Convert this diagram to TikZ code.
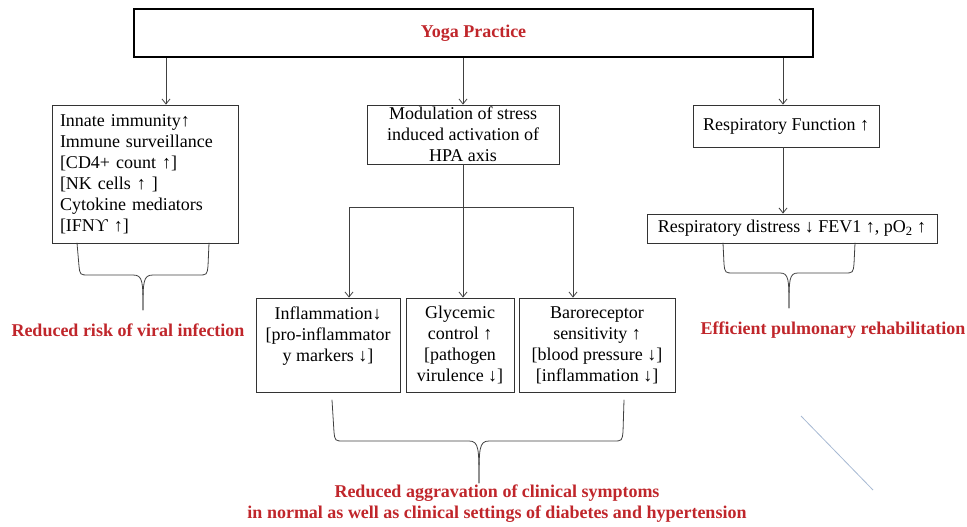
\documentclass[tikz,border=0pt]{standalone}
\usepackage{fontspec}
\setmainfont{Liberation Serif}
\usepackage{xcolor}
\definecolor{brick}{HTML}{C0262B}
\definecolor{steel}{HTML}{A7B9D3}
\newcommand\brickText[1]{{\color{brick}\bfseries#1}}
\usetikzlibrary{arrows.meta,positioning,calc}
\tikzset{
    box/.style ={rectangle, draw=black!80, line width=0.8pt, inner sep=0pt,
                 align=center, font=\fontsize{18}{21}\selectfont},
    outcome/.style = {align=center, text=brick, font=\fontsize{18}{21}\selectfont\bfseries},
    plain/.style = {draw=black!75, line width=0.8pt},
    link/.style = {plain, -{Straight Barb[length=5pt,width=8pt]}},
    brace/.style = {plain, line cap=round}
}

\begin{document}
\begin{tikzpicture}[x=1pt,y=-1pt]
      \useasboundingbox (0,0) rectangle (967,527);
      % boxes
      \node[box, draw=black, line width=2.4pt, minimum width=679, minimum height=48] (yoga) at (473.5,33) {\brickText{Yoga Practice}};
      \node[box, align=left, text width=170, minimum width=186, minimum height=138] (immune) at (145,174)
        {Innate immunity↑\\Immune surveillance\\{[}CD4+ count ↑]\\{[}NK cells ↑ ]\\Cytokine mediators\\{[}IFNϒ ↑]};
      \node[box, minimum width=192, minimum height=59] (hpa) at (463,134.5) {Modulation of stress\\induced activation of\\HPA axis};
      \node[box, minimum width=186, minimum height=42] (resp) at (786,126) {Respiratory Function ↑};
      \node[box, minimum width=290, minimum height=29] (distress) at (792,228.5) {Respiratory distress ↓ FEV1 ↑, pO\textsubscript{2} ↑};
      \node[box, minimum width=144, minimum height=94] (infl) at (328,345) {Inflammation↓\\{[}pro-inflammator\\y markers ↓]\\\mbox{}};
      \node[box, minimum width=108, minimum height=94] (gly) at (460,345) {Glycemic\\control ↑\\{[}pathogen\\virulence ↓]};
      \node[box, minimum width=156, minimum height=94] (baro) at (597,345) {Baroreceptor\\sensitivity ↑\\{[}blood pressure ↓]\\{[}inflammation ↓]};

      % outcomes
      \node[outcome] (viral) at (128,330) {Reduced risk of viral infection};
      \node[outcome] (pulm) at (833,330) {Efficient pulmonary rehabilitation};
      \node[outcome] (clinical) at (497,504) {Reduced aggravation of clinical symptoms\\in normal as well as clinical settings of diabetes and hypertension};

      % arrows
      \coordinate (tapL) at (166,80);
      \coordinate (tapR) at (783,80);
      \coordinate (split) at (463,207);
      \coordinate (splitL) at (349,207);
      \coordinate (splitR) at (573,207);
      \draw[link] (tapL |- yoga.south) -- (tapL |- immune.north);
      \draw[link] (yoga.south -| hpa.north) -- (hpa.north);
      \draw[link] (tapR |- yoga.south) -- (tapR |- resp.north);
      \draw[link] (tapR |- resp.south) -- (tapR |- distress.north);
      \draw[plain] (hpa.south) -- (split);
      \draw[plain] (splitL) -- (splitR);
      \draw[link] (splitL) -- (splitL |- infl.north);
      \draw[link] (split) -- (split |- gly.north);
      \draw[link] (splitR) -- (splitR |- baro.north);

      % braces
      \draw[brace] (77,243) -- (79,266) .. controls (80,275) .. (89,275) -- (133,275) .. controls (143,275) and (143,282) .. (143,310);
      \draw[brace] (209,243) -- (208,266) .. controls (207,275) .. (198,275) -- (153,275) .. controls (143,275) and (143,282) .. (143,310);
      \draw[brace] (332,400) -- (334,432) .. controls (335,441) .. (344,441) -- (469,441) .. controls (479,441) and (479,449) .. (479,483);
      \draw[brace] (624,400) -- (623,432) .. controls (622,441) .. (613,441) -- (489,441) .. controls (479,441) and (479,449) .. (479,483);
      \draw[brace] (723,243) -- (724,264) .. controls (725,273) .. (734,273) -- (780,273) .. controls (789,273) and (789,280) .. (789,308);
      \draw[brace] (855,243) -- (854,264) .. controls (853,273) .. (844,273) -- (798,273) .. controls (789,273) and (789,280) .. (789,308);

      \draw[steel, line width=0.8pt] (801,416) -- (873,490);
\end{tikzpicture}
\end{document}
